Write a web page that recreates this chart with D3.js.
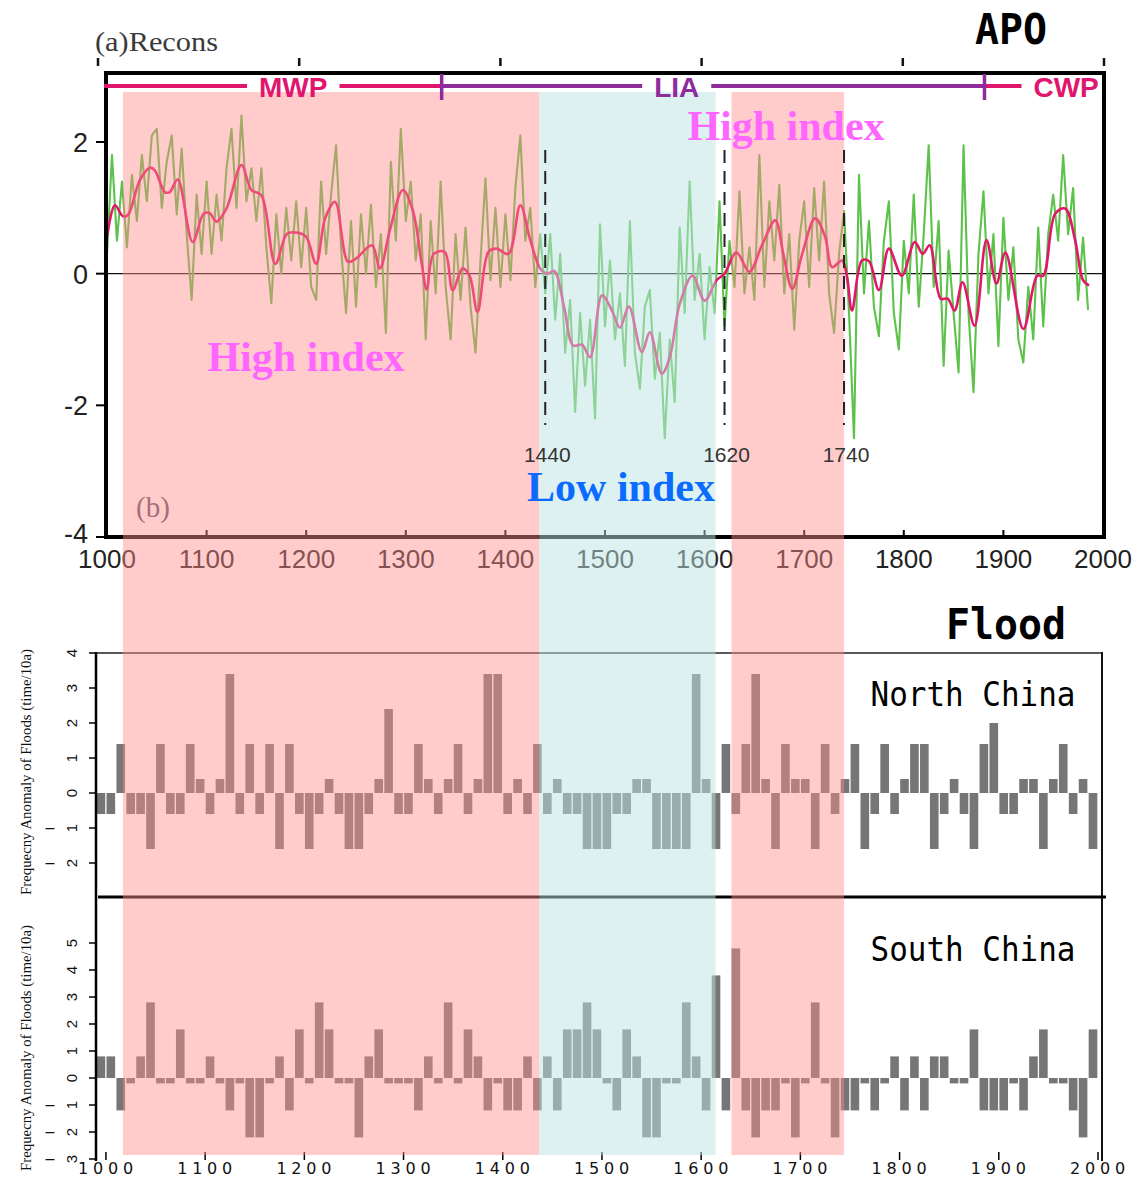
<!DOCTYPE html>
<html>
<head>
<meta charset="utf-8">
<script src="https://cdn.jsdelivr.net/npm/d3@7"></script>
<style>
  body { margin: 0; background: #fff; }
</style>
</head>
<body>
<svg id="chart" width="1137" height="1179"></svg>
<script>
// APO reconstruction, annual index read at 5-year steps (1000-1985)
const greenYears = d3.range(1000, 1986, 5);
const greenValues = [
  0.3, 1.8, 0.5, 1.4, 0.4, 1.5, 0.8, 1.8, 1.1, 2.1,
  2.2, 1.0, 1.7, 2.1, 0.9, 1.9, 0.6, -0.4, 1.2, 0.3,
  1.4, 0.3, 1.2, 0.5, 1.6, 2.2, 1.0, 2.4, 1.1, 1.6,
  0.8, 1.6, 0.4, -0.45, 0.9, 0.0, 1.0, 0.2, 1.1, 0.1,
  1.0, -0.2, -0.4, 1.4, 0.3, 1.2, 1.95, 0.4, -0.6, 0.8,
  -0.5, 0.9, 0.0, 1.05, -0.2, 0.6, -0.9, 1.7, 0.5, 2.2,
  0.8, 1.4, 0.2, 0.9, -1.0, 0.8, -0.3, 1.4, -0.2, -1.0,
  0.6, -0.4, 0.7, -0.5, -1.2, 0.2, 1.45, -0.1, 1.0, -0.2,
  0.9, -0.1, 1.3, 2.1, 0.5, 1.0, -0.2, 0.6, -0.3, 0.6,
  -0.7, 0.3, -1.2, -0.4, -2.1, -0.6, -1.7, -0.7, -2.2, 0.75,
  -0.8, 0.2, -1.0, -0.3, -1.4, 0.8, -1.2, -1.75, -0.5, -0.25,
  -1.6, -0.9, -2.5, -1.0, -1.95, 0.7, -0.6, 1.4, -0.4, 0.3,
  -1.0, 0.1, -0.6, 1.1, -0.8, 0.5, -0.2, 1.25, -0.3, 0.4,
  -0.4, 1.8, -0.2, 1.1, 0.2, 1.35, -0.3, 0.6, -0.85, 0.5,
  1.1, -0.2, 1.3, 0.2, 1.4, -0.3, -0.9, 0.3, 0.95, -0.6,
  -2.5, 1.5, -0.3, 0.8, -0.5, -0.95, 0.5, 1.1, -0.6, -1.15,
  0.5, -0.3, 1.2, -0.5, 0.6, 1.95, -0.2, 0.8, -1.4, 0.35,
  -0.6, -1.5, 1.95, -0.6, -1.8, 0.3, 1.25, -0.3, 0.6, -1.1,
  0.85, -0.4, 0.4, -1.0, -1.35, -0.2, -1.0, 0.7, -0.8, 0.6,
  1.2, 0.5, 1.8, 0.6, 1.3, -0.4, 0.55, -0.55
];

// smoothed curve (turning points)
const redYears = [1000,1008,1016,1021,1033,1043,1048,1058,1063,1071,
  1086,1097,1103,1110,1120,1135,1145,1155,1169,1181,
  1192,1200,1210,1219,1229,1242,1250,1266,1274,1284,
  1297,1307,1316,1321,1328,1339,1347,1357,1364,1372,
  1383,1391,1403,1415,1425,1435,1442,1449,1459,1468,
  1477,1485,1497,1507,1515,1524,1537,1545,1557,1565,
  1575,1588,1600,1612,1620,1632,1645,1657,1671,1679,
  1688,1698,1711,1721,1728,1738,1743,1748,1758,1765,
  1775,1785,1798,1811,1819,1826,1837,1844,1851,1859,
  1871,1883,1893,1902,1920,1934,1940,1952,1962,1972,
  1980,1986];
const redValues = [0.56,1.04,0.87,0.89,1.42,1.61,1.57,1.24,1.24,1.43,
  0.48,0.91,0.92,0.79,0.99,1.65,1.27,1.19,0.15,0.61,
  0.62,0.56,0.15,0.84,1.09,0.18,0.23,0.43,0.08,0.66,
  1.27,0.96,0.15,-0.24,0.30,0.33,-0.25,0.08,-0.03,-0.58,
  0.33,0.38,0.30,1.04,0.51,0.08,0.0,0.04,-0.51,-1.09,
  -1.08,-1.27,-0.33,-0.56,-0.82,-0.50,-1.19,-0.89,-1.52,-1.27,
  -0.46,-0.03,-0.41,-0.10,0.0,0.32,0.03,0.41,0.81,0.30,
  -0.23,0.30,0.84,0.56,0.10,0.20,-0.05,-0.56,0.20,0.19,
  -0.25,0.38,-0.03,0.48,0.30,0.43,-0.38,-0.38,-0.56,-0.13,
  -0.79,0.51,-0.15,0.32,-0.84,-0.03,-0.03,0.91,0.99,0.51,
  -0.10,-0.18];

// flood frequency anomaly per decade (990s ... 1990s)
const decades = d3.range(990, 2000, 10);
const northFlood = [
  -0.6, -0.6, 1.4, -0.6, -0.6, -1.6, 1.4, -0.6, -0.6, 1.4,
  0.4, -0.6, 0.4, 3.4, -0.6, 1.4, -0.6, 1.4, -1.6, 1.4,
  -0.6, -1.6, -0.6, 0.4, -0.6, -1.6, -1.6, -0.6, 0.4, 2.4,
  -0.6, -0.6, 1.4, 0.4, -0.6, 0.4, 1.4, -0.6, 0.4, 3.4,
  3.4, -0.6, 0.4, -0.6, 1.4, -0.6, 0.4, -0.6, -0.6, -1.6,
  -1.6, -1.6, -0.6, -0.6, 0.4, 0.4, -1.6, -1.6, -1.6, -1.6,
  3.4, 0.4, -1.6, 1.4, -0.6, 1.4, 3.4, 0.4, -1.6, 1.4,
  0.4, 0.4, -1.6, 1.4, -0.6, 0.4, 1.4, -1.6, -0.6, 1.4,
  -0.6, 0.4, 1.4, 1.4, -1.6, -0.6, 0.4, -0.6, -1.6, 1.4,
  2.0, -0.6, -0.6, 0.4, 0.4, -1.6, 0.4, 1.4, -0.6, 0.4,
  -1.6
];
const southFlood = [
  0.8, 0.8, -1.2, -0.2, 0.8, 2.8, -0.2, -0.2, 1.8, -0.2,
  -0.2, 0.8, -0.2, -1.2, -0.2, -2.2, -2.2, -0.2, 0.8, -1.2,
  1.8, -0.2, 2.8, 1.8, -0.2, -0.2, -2.2, 0.8, 1.8, -0.2,
  -0.2, -0.2, -1.2, 0.8, -0.2, 2.8, -0.2, 1.8, 0.8, -1.2,
  -0.2, -1.2, -1.2, 0.8, -1.2, 0.8, -1.2, 1.8, 1.8, 2.8,
  1.8, -0.2, -1.2, 1.8, 0.8, -2.2, -2.2, -0.2, -0.2, 2.8,
  0.8, -1.2, 3.8, -1.2, 4.8, -1.2, -2.2, -1.2, -1.2, -0.2,
  -2.2, -0.2, 2.8, -0.2, -2.2, -1.2, -1.2, -0.2, -1.2, -0.2,
  0.8, -1.2, 0.8, -1.2, 0.8, 0.8, -0.2, -0.2, 1.8, -1.2,
  -1.2, -1.2, -0.2, -1.2, 0.8, 1.8, -0.2, -0.2, -1.2, -2.2,
  1.8
];

// shaded phases and period bar
const phaseStart = [1016, 1434, 1627];
const phaseEnd = [1434, 1611, 1740];
const phaseKind = ["high", "low", "high"];
const breakYears = [1440, 1620, 1740];
const periodNames = ["MWP", "LIA", "CWP"];
const periodStart = [997, 1336, 1881];
const periodEnd = [1336, 1881, 2000];
const periodLabelYear = [1187, 1572, 1963];

const topYTicks = [2, 0, -2, -4];
const topXTicks = d3.range(1000, 2001, 100);
const northTicks = [4, 3, 2, 1, 0, -1, -2];
const southTicks = [5, 4, 3, 2, 1, 0, -1, -2, -3];

const svg = d3.select("#chart");
svg.append("rect").attr("width", 1137).attr("height", 1179).attr("fill", "#fff");

const sans = "'Liberation Sans', Arial, sans-serif";
const serif = "'Liberation Serif', 'Times New Roman', serif";
const mono = "'DejaVu Sans Mono', monospace";

// scales
const xTop = d3.scaleLinear().domain([1000, 2000]).range([107, 1103]);
const yTop = d3.scaleLinear().domain([-4, 2]).range([537, 142]);
const xA = d3.scaleLinear().domain([1000, 2000]).range([98, 1104]);
const xFlood = d3.scaleLinear().domain([990, 2000]).range([96, 1098]);
const yNorth = d3.scaleLinear().domain([-3, 4]).range([898, 653]);
const ySouth = d3.scaleLinear().domain([-3, 5]).range([1159, 943]);

// ---- panel (a) remnants
svg.append("text").attr("x", 95).attr("y", 51).text("(a)Recons")
  .attr("font-family", serif).attr("font-size", 28).attr("fill", "#3a3a3a")
  .attr("textLength", 123).attr("lengthAdjust", "spacingAndGlyphs");
svg.selectAll(".atick").data(d3.range(1000, 2001, 200)).enter().append("line")
  .attr("x1", d => xA(d)).attr("x2", d => xA(d))
  .attr("y1", 58).attr("y2", 66).attr("stroke", "#111").attr("stroke-width", 2.5);

svg.append("text").attr("x", 1011).attr("y", 44).attr("text-anchor", "middle")
  .text("APO").attr("font-family", mono).attr("font-weight", "bold")
  .attr("font-size", 42).attr("textLength", 72).attr("lengthAdjust", "spacingAndGlyphs");

// ---- top panel
const topPanel = svg.append("g");
topPanel.append("line").attr("x1", 106).attr("x2", 1104)
  .attr("y1", yTop(0)).attr("y2", yTop(0)).attr("stroke", "#111").attr("stroke-width", 1.3);

const greenLine = d3.line().x(d => xTop(d[0])).y(d => yTop(d[1]));
topPanel.append("path")
  .datum(greenYears.map((y, i) => [y, greenValues[i]]))
  .attr("d", greenLine).attr("fill", "none")
  .attr("stroke", "#5cc24a").attr("stroke-width", 2.1).attr("stroke-linejoin", "round");

const redLine = d3.line().curve(d3.curveCatmullRom.alpha(0.5))
  .x(d => xTop(d[0])).y(d => yTop(d[1]));
topPanel.append("path")
  .datum(redYears.map((y, i) => [y, redValues[i]]))
  .attr("d", redLine).attr("fill", "none")
  .attr("stroke", "#e2176a").attr("stroke-width", 2.6);

// frame
topPanel.append("rect").attr("x", 106).attr("y", 73).attr("width", 998).attr("height", 464)
  .attr("fill", "none").attr("stroke", "#000").attr("stroke-width", 4);

// y ticks
topPanel.selectAll(".ytick").data(topYTicks).enter().append("line")
  .attr("x1", 96).attr("x2", 106).attr("y1", d => yTop(d)).attr("y2", d => yTop(d))
  .attr("stroke", "#000").attr("stroke-width", 2);
topPanel.selectAll(".ylab").data(topYTicks).enter().append("text")
  .attr("x", 88).attr("y", d => yTop(d) + (d === -4 ? 6 : 10)).attr("text-anchor", "end")
  .text(d => d).attr("font-family", sans).attr("font-size", 27).attr("fill", "#222");

// x ticks
topPanel.selectAll(".xtick").data(topXTicks).enter().append("line")
  .attr("x1", d => xTop(d)).attr("x2", d => xTop(d)).attr("y1", 530).attr("y2", 537)
  .attr("stroke", "#000").attr("stroke-width", 2);
topPanel.selectAll(".xlab").data(topXTicks).enter().append("text")
  .attr("x", d => xTop(d)).attr("y", 568).attr("text-anchor", "middle")
  .text(d => d).attr("font-family", sans).attr("font-size", 26).attr("fill", "#222");

topPanel.append("text").attr("x", 136).attr("y", 517).text("(b)")
  .attr("font-family", serif).attr("font-size", 29).attr("fill", "#555a6a");

// ---- flood panels
svg.append("text").attr("x", 1006).attr("y", 639).attr("text-anchor", "middle")
  .text("Flood").attr("font-family", mono).attr("font-weight", "bold")
  .attr("font-size", 42).attr("textLength", 120).attr("lengthAdjust", "spacingAndGlyphs");

const barW = xFlood(1000) - xFlood(990) - 1.3;
function floodBars(values, y, cls) {
  svg.selectAll("." + cls).data(decades).enter().append("rect")
    .attr("class", cls)
    .attr("x", d => xFlood(d) + 0.6)
    .attr("width", barW)
    .attr("y", (d, i) => Math.min(y(0), y(values[i])))
    .attr("height", (d, i) => Math.abs(y(values[i]) - y(0)))
    .attr("fill", "#767676");
}
floodBars(northFlood, yNorth, "nbar");
floodBars(southFlood, ySouth, "sbar");

// frames
svg.append("line").attr("x1", 96).attr("x2", 1102).attr("y1", 653).attr("y2", 653)
  .attr("stroke", "#222").attr("stroke-width", 1.6);
svg.append("line").attr("x1", 96).attr("x2", 96).attr("y1", 652).attr("y2", 1161)
  .attr("stroke", "#000").attr("stroke-width", 2.5);
svg.append("line").attr("x1", 1102).attr("x2", 1102).attr("y1", 652).attr("y2", 1161)
  .attr("stroke", "#111").attr("stroke-width", 2);
svg.append("line").attr("x1", 98).attr("x2", 1106).attr("y1", 897).attr("y2", 897)
  .attr("stroke", "#000").attr("stroke-width", 3);

function floodYAxis(ticks, y, titleY) {
  const g = svg.append("g");
  g.selectAll("line").data(ticks).enter().append("line")
    .attr("x1", 89).attr("x2", 96).attr("y1", d => y(d)).attr("y2", d => y(d))
    .attr("stroke", "#000").attr("stroke-width", 1.5);
  g.selectAll(".num").data(ticks).enter().append("text")
    .attr("transform", d => `translate(77,${y(d)}) rotate(-90)`)
    .attr("text-anchor", "middle").text(d => Math.abs(d))
    .attr("font-family", sans).attr("font-size", 15).attr("fill", "#111");
  g.selectAll(".neg").data(ticks.filter(d => d < 0)).enter().append("text")
    .attr("x", 50).attr("y", d => y(d) + 5).attr("text-anchor", "middle")
    .text("–").attr("font-family", sans).attr("font-size", 16).attr("fill", "#111");
  g.append("text")
    .attr("transform", `translate(31,${titleY}) rotate(-90)`)
    .attr("text-anchor", "middle").text("Frequecny Anomaly of Floods (time/10a)")
    .attr("font-family", serif).attr("font-size", 15).attr("fill", "#111")
    .attr("textLength", 246).attr("lengthAdjust", "spacingAndGlyphs");
}
floodYAxis(northTicks, yNorth, 772);
floodYAxis(southTicks, ySouth, 1048);

const floodXTicks = d3.range(1000, 2001, 100);
svg.selectAll(".fxtick").data(floodXTicks).enter().append("line")
  .attr("x1", d => xFlood(d)).attr("x2", d => xFlood(d)).attr("y1", 1152).attr("y2", 1160)
  .attr("stroke", "#000").attr("stroke-width", 1.5);
svg.selectAll(".fxlab").data(floodXTicks).enter().append("text")
  .attr("x", d => xFlood(d) + 2).attr("y", 1174).attr("text-anchor", "middle")
  .text(d => d).attr("font-family", "'DejaVu Sans', sans-serif").attr("font-size", 16)
  .attr("letter-spacing", 4.8).attr("fill", "#111");

svg.append("text").attr("x", 973).attr("y", 706).attr("text-anchor", "middle")
  .text("North China").attr("font-family", mono).attr("font-size", 33)
  .attr("textLength", 205).attr("lengthAdjust", "spacingAndGlyphs");
svg.append("text").attr("x", 973).attr("y", 961).attr("text-anchor", "middle")
  .text("South China").attr("font-family", mono).attr("font-size", 33)
  .attr("textLength", 205).attr("lengthAdjust", "spacingAndGlyphs");

// ---- shaded phases over everything
svg.selectAll(".phase").data(phaseStart).enter().append("rect")
  .attr("x", d => xTop(d))
  .attr("width", (d, i) => xTop(phaseEnd[i]) - xTop(d))
  .attr("y", 92).attr("height", 1063)
  .attr("fill", (d, i) => phaseKind[i] === "high" ? "rgb(255,140,140)" : "rgb(190,228,228)")
  .attr("fill-opacity", (d, i) => phaseKind[i] === "high" ? 0.45 : 0.5);

// ---- break lines
svg.selectAll(".brk").data(breakYears).enter().append("line")
  .attr("x1", d => xTop(d)).attr("x2", d => xTop(d)).attr("y1", 150).attr("y2", 425)
  .attr("stroke", "#222").attr("stroke-width", 2).attr("stroke-dasharray", "13,8");
svg.selectAll(".brklab").data(breakYears).enter().append("text")
  .attr("x", d => xTop(d) + 2).attr("y", 462).attr("text-anchor", "middle")
  .text(d => d).attr("font-family", sans).attr("font-size", 21).attr("fill", "#333");

// annotations
function note(txt, x, y, color) {
  svg.append("text").attr("x", x).attr("y", y).attr("text-anchor", "middle").text(txt)
    .attr("font-family", serif).attr("font-weight", "bold").attr("font-size", 42)
    .attr("fill", color);
}
note("High index", 786, 140, "#ff66ff");
note("High index", 306, 371, "#ff66ff");
note("Low index", 621, 501, "#0a6cff");

// ---- period bar
const periodColor = ["#e0156e", "#8e2c9c", "#e0156e"];
const pbY = 86;
periodNames.forEach((name, i) => {
  const lx = xTop(periodLabelYear[i]);
  const t = svg.append("text").attr("x", lx).attr("y", 97).attr("text-anchor", "middle")
    .text(name).attr("font-family", sans).attr("font-weight", "bold").attr("font-size", 28)
    .attr("fill", periodColor[i]);
  const half = t.node().getComputedTextLength() / 2 + 12;
  const x0 = xTop(periodStart[i]), x1 = xTop(periodEnd[i]);
  const segs = [[x0, Math.min(x1, lx - half)], [Math.max(x0, lx + half), x1]];
  segs.filter(s => s[1] > s[0]).forEach(s => {
    svg.append("line").attr("x1", s[0]).attr("x2", s[1]).attr("y1", pbY).attr("y2", pbY)
      .attr("stroke", periodColor[i]).attr("stroke-width", 4);
  });
});
svg.selectAll(".pbreak").data(periodStart.slice(1)).enter().append("line")
  .attr("x1", d => xTop(d)).attr("x2", d => xTop(d)).attr("y1", 74).attr("y2", 100)
  .attr("stroke", "#8e2c9c").attr("stroke-width", 3.5);
</script>
</body>
</html>
